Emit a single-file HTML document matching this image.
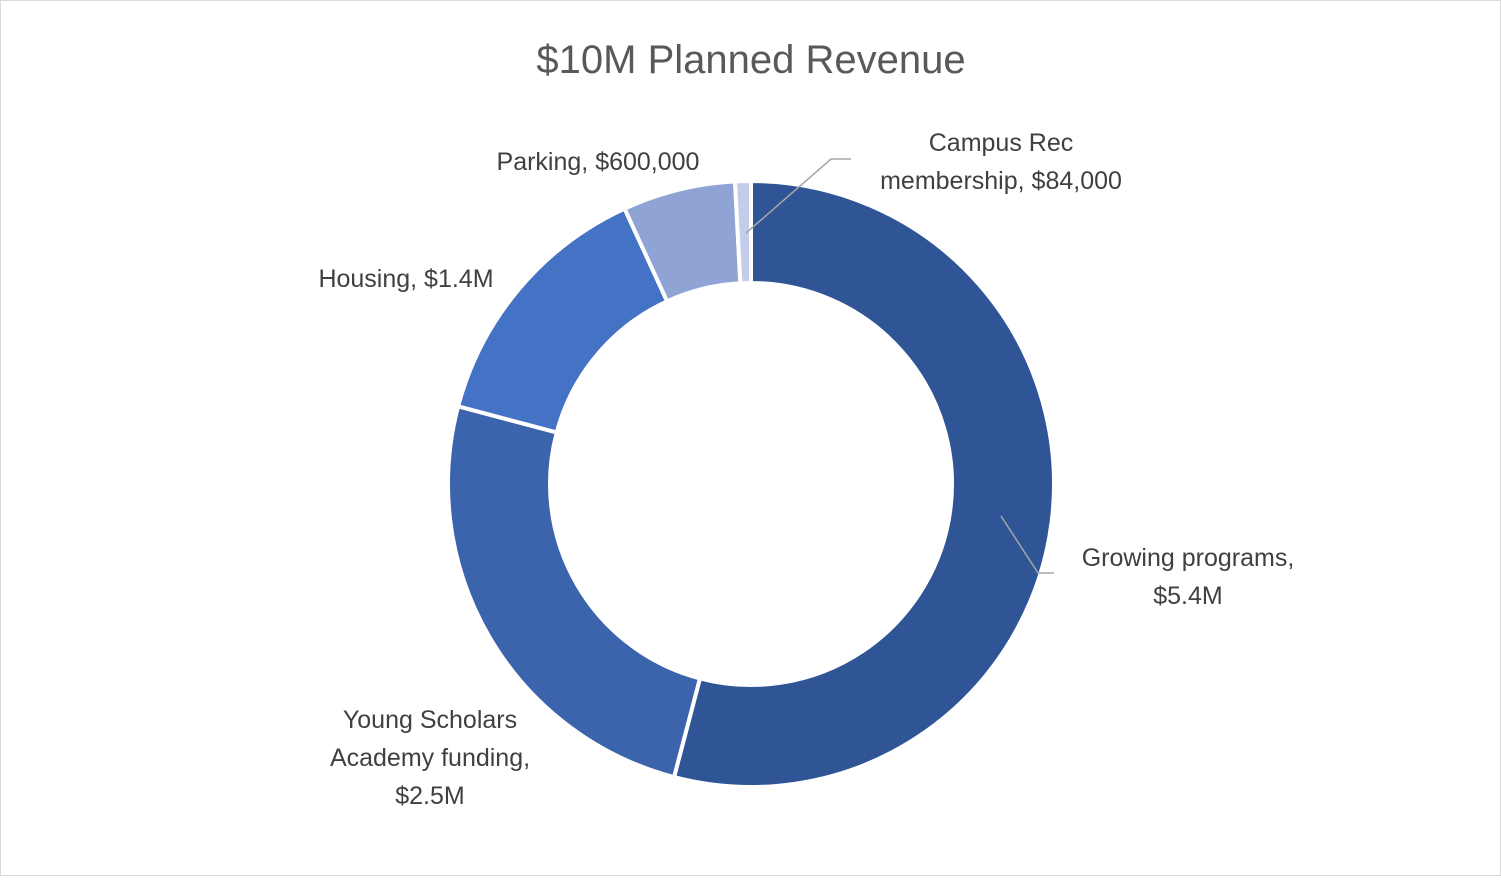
<!DOCTYPE html>
<html><head><meta charset="utf-8">
<style>
html,body{margin:0;padding:0;background:#fff;}
#chart{position:relative;width:1501px;height:876px;box-sizing:border-box;border:1.5px solid #d9d9d9;background:#fff;}
svg text{font-family:"Liberation Sans",sans-serif;}
</style></head>
<body>
<div id="chart">
<svg id="svg" width="1501" height="876">
<text x="750" y="72" text-anchor="middle" font-size="40" fill="#595959">$10M Planned Revenue</text>
<g id="slices"></g>
<g id="leaders" stroke="#a6a6a6" stroke-width="1.5" fill="none">
<polyline points="745,232 830,158 850,158"/>
<polyline points="1000,515 1037,572 1053,572"/>
</g>
<g font-size="25" fill="#404040">
<text x="1000" y="150" text-anchor="middle"><tspan x="1000">Campus Rec</tspan><tspan x="1000" dy="38">membership, $84,000</tspan></text>
<text x="597" y="169" text-anchor="middle">Parking, $600,000</text>
<text x="405" y="286" text-anchor="middle">Housing, $1.4M</text>
<text x="1187" y="565" text-anchor="middle"><tspan x="1187">Growing programs,</tspan><tspan x="1187" dy="38">$5.4M</tspan></text>
<text x="429" y="727" text-anchor="middle"><tspan x="429">Young Scholars</tspan><tspan x="429" dy="38">Academy funding,</tspan><tspan x="429" dy="38">$2.5M</tspan></text>
</g>
</svg>
</div>
<script>
const categories = ["Growing programs","Young Scholars Academy funding","Housing","Parking","Campus Rec membership"];
const values = [5400000,2500000,1400000,600000,84000];
const colors = ["#2F5597","#3B64AD","#4472C4","#8FA3D5","#C3CDEA"];
const names = ["slice-growing-programs","slice-young-scholars","slice-housing","slice-parking","slice-campus-rec"];
const cx=750, cy=483, R=303, r=201;
const total=values.reduce((a,b)=>a+b,0);
const g=document.getElementById('slices');
function pt(rad,a){return [cx+rad*Math.sin(a), cy-rad*Math.cos(a)];}
let a0=0;
values.forEach((v,i)=>{
  const a1=a0+v/total*2*Math.PI;
  const large=(a1-a0)>Math.PI?1:0;
  const p1=pt(R,a0),p2=pt(R,a1),p3=pt(r,a1),p4=pt(r,a0);
  const p=document.createElementNS('http://www.w3.org/2000/svg','path');
  p.setAttribute('d',`M${p1[0]},${p1[1]} A${R},${R} 0 ${large} 1 ${p2[0]},${p2[1]} L${p3[0]},${p3[1]} A${r},${r} 0 ${large} 0 ${p4[0]},${p4[1]} Z`);
  p.setAttribute('fill',colors[i]);
  p.setAttribute('stroke','#fff');
  p.setAttribute('stroke-width','4');
  
  
  g.appendChild(p);
  a0=a1;
});
</script>
</body></html>
